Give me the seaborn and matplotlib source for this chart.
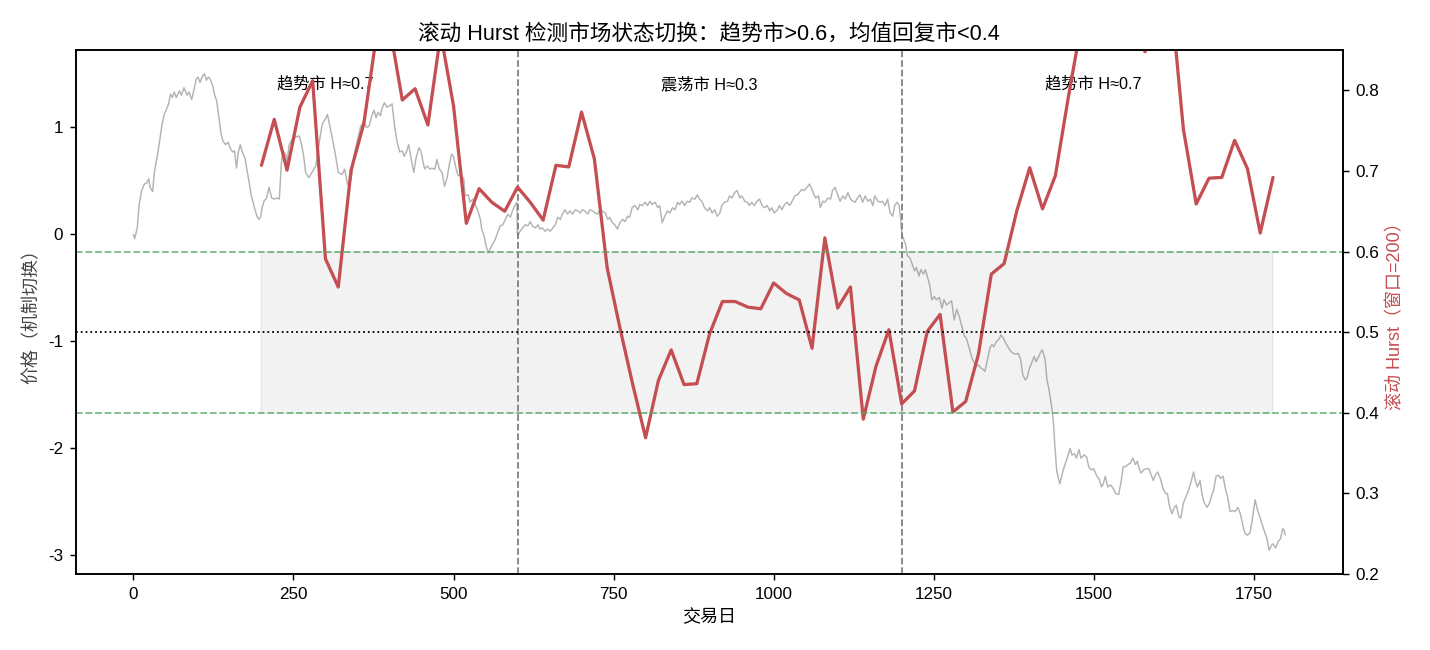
import numpy as np
import pandas as pd
import matplotlib
matplotlib.use("Agg")
import matplotlib.pyplot as plt
import seaborn as sns

# ---------------- data ----------------
price_days = [
    0, 2, 6, 9, 13, 17, 21, 24, 26, 30, 33, 37, 41, 44, 48, 51, 55, 58, 61, 64,
    67, 72, 75, 79, 84, 87, 91, 95, 98, 101, 104, 108, 111, 114, 117, 120, 124, 127, 130, 133,
    137, 140, 144, 148, 151, 155, 158, 161, 164, 167, 170, 174, 177, 181, 184, 189, 193, 196, 199, 201,
    204, 208, 212, 216, 220, 224, 228, 231, 234, 238, 240, 243, 248, 254, 259, 263, 266, 269, 274, 279,
    285, 290, 295, 300, 303, 307, 311, 316, 320, 326, 330, 334, 337, 341, 345, 350, 355, 360, 364, 368,
    373, 376, 379, 382, 386, 388, 392, 396, 400, 404, 408, 412, 416, 420, 423, 427, 430, 434, 438, 441,
    446, 449, 452, 455, 459, 463, 466, 471, 474, 478, 482, 486, 490, 494, 497, 500, 503, 507, 512, 516,
    518, 523, 526, 530, 534, 538, 542, 544, 548, 551, 554, 557, 561, 565, 569, 573, 577, 581, 585, 589,
    592, 596, 599, 600, 604, 608, 612, 616, 620, 623, 628, 632, 635, 639, 643, 647, 651, 655, 659, 663,
    667, 670, 674, 678, 682, 686, 690, 694, 698, 701, 705, 710, 713, 717, 721, 725, 729, 732, 737, 741,
    744, 748, 752, 756, 760, 764, 768, 772, 775, 779, 783, 788, 791, 795, 799, 803, 807, 810, 815, 819,
    822, 826, 830, 834, 838, 842, 846, 850, 853, 857, 861, 865, 869, 872, 877, 881, 884, 888, 892, 897,
    900, 904, 908, 912, 916, 919, 923, 928, 931, 935, 939, 943, 947, 950, 955, 959, 962, 966, 970, 974,
    978, 982, 986, 990, 994, 997, 1001, 1006, 1009, 1013, 1017, 1021, 1025, 1028, 1033, 1037, 1040, 1044, 1048, 1052,
    1056, 1060, 1063, 1066, 1070, 1073, 1077, 1080, 1085, 1089, 1092, 1096, 1100, 1104, 1108, 1112, 1116, 1120, 1124, 1127,
    1131, 1135, 1139, 1143, 1147, 1151, 1155, 1158, 1163, 1167, 1170, 1174, 1178, 1182, 1186, 1189, 1193, 1196, 1198, 1200,
    1202, 1206, 1209, 1213, 1216, 1220, 1223, 1227, 1230, 1234, 1237, 1240, 1244, 1247, 1251, 1254, 1259, 1263, 1266, 1270,
    1274, 1278, 1282, 1286, 1290, 1294, 1298, 1301, 1305, 1309, 1313, 1317, 1320, 1324, 1327, 1330, 1334, 1338, 1341, 1344,
    1348, 1352, 1355, 1359, 1362, 1367, 1370, 1374, 1378, 1382, 1386, 1389, 1393, 1396, 1399, 1403, 1407, 1410, 1414, 1418,
    1420, 1424, 1427, 1431, 1435, 1437, 1439, 1442, 1444, 1447, 1451, 1454, 1459, 1463, 1466, 1470, 1473, 1477, 1480, 1485,
    1489, 1492, 1496, 1500, 1505, 1508, 1512, 1515, 1518, 1522, 1526, 1530, 1534, 1539, 1543, 1546, 1550, 1553, 1557, 1561,
    1565, 1568, 1571, 1574, 1578, 1582, 1586, 1588, 1593, 1596, 1600, 1604, 1608, 1612, 1615, 1618, 1622, 1626, 1629, 1633,
    1636, 1640, 1644, 1648, 1652, 1656, 1659, 1662, 1666, 1669, 1672, 1677, 1681, 1684, 1687, 1691, 1695, 1698, 1702, 1705,
    1709, 1713, 1717, 1721, 1725, 1729, 1733, 1736, 1740, 1744, 1748, 1752, 1756, 1760, 1764, 1767, 1770, 1774, 1778, 1780,
    1784, 1788, 1792, 1795, 1797, 1799,
]
price_values = [
    0.00, -0.04, 0.06, 0.28, 0.41, 0.47, 0.48, 0.52, 0.44, 0.40, 0.59, 0.72, 0.87, 1.00, 1.12, 1.16, 1.22, 1.31, 1.28, 1.33,
    1.28, 1.34, 1.30, 1.37, 1.30, 1.33, 1.26, 1.36, 1.45, 1.47, 1.42, 1.48, 1.50, 1.44, 1.47, 1.45, 1.39, 1.30, 1.25, 1.12,
    0.94, 0.87, 0.84, 0.86, 0.81, 0.77, 0.78, 0.62, 0.77, 0.84, 0.77, 0.72, 0.62, 0.48, 0.37, 0.25, 0.17, 0.14, 0.17, 0.25,
    0.31, 0.34, 0.44, 0.34, 0.33, 0.34, 0.33, 0.66, 0.78, 0.75, 0.66, 0.83, 0.89, 0.91, 0.92, 0.83, 0.73, 0.58, 0.53, 0.58,
    0.64, 0.85, 1.03, 1.08, 1.12, 1.01, 0.89, 0.73, 0.58, 0.56, 0.61, 0.48, 0.45, 0.55, 0.75, 0.88, 1.01, 1.05, 1.00, 1.01,
    1.12, 1.16, 1.09, 1.14, 1.11, 1.17, 1.23, 1.19, 1.20, 1.22, 1.01, 0.86, 0.77, 0.78, 0.73, 0.78, 0.84, 0.70, 0.58, 0.70,
    0.81, 0.78, 0.69, 0.61, 0.64, 0.61, 0.62, 0.61, 0.70, 0.61, 0.58, 0.45, 0.53, 0.67, 0.75, 0.73, 0.64, 0.55, 0.55, 0.52,
    0.36, 0.37, 0.30, 0.33, 0.28, 0.22, 0.14, 0.05, -0.02, -0.11, -0.17, -0.14, -0.09, -0.05, 0.02, 0.08, 0.09, 0.14, 0.19, 0.16,
    0.22, 0.27, 0.30, -0.02, 0.03, 0.06, 0.09, 0.08, 0.12, 0.08, 0.06, 0.09, 0.05, 0.06, 0.03, 0.05, 0.03, 0.06, 0.09, 0.16,
    0.14, 0.19, 0.23, 0.19, 0.22, 0.19, 0.23, 0.22, 0.20, 0.23, 0.22, 0.19, 0.23, 0.22, 0.20, 0.19, 0.23, 0.22, 0.20, 0.14,
    0.16, 0.11, 0.09, 0.05, 0.11, 0.14, 0.12, 0.17, 0.16, 0.25, 0.27, 0.23, 0.28, 0.27, 0.30, 0.27, 0.31, 0.28, 0.30, 0.25,
    0.27, 0.11, 0.17, 0.22, 0.20, 0.25, 0.23, 0.30, 0.28, 0.31, 0.27, 0.31, 0.30, 0.34, 0.33, 0.37, 0.33, 0.31, 0.25, 0.22,
    0.25, 0.20, 0.23, 0.17, 0.20, 0.27, 0.30, 0.31, 0.36, 0.34, 0.39, 0.41, 0.34, 0.36, 0.31, 0.30, 0.27, 0.30, 0.27, 0.31,
    0.33, 0.27, 0.25, 0.27, 0.22, 0.25, 0.20, 0.23, 0.27, 0.23, 0.28, 0.30, 0.27, 0.30, 0.36, 0.37, 0.39, 0.42, 0.41, 0.44,
    0.47, 0.42, 0.37, 0.34, 0.36, 0.25, 0.31, 0.30, 0.34, 0.33, 0.41, 0.44, 0.37, 0.31, 0.36, 0.33, 0.39, 0.33, 0.31, 0.30,
    0.34, 0.37, 0.30, 0.36, 0.31, 0.33, 0.27, 0.36, 0.31, 0.30, 0.31, 0.27, 0.33, 0.20, 0.17, 0.27, 0.30, 0.27, 0.17, 0.02,
    -0.03, -0.09, -0.20, -0.22, -0.27, -0.34, -0.31, -0.39, -0.33, -0.37, -0.33, -0.39, -0.48, -0.61, -0.58, -0.61, -0.59, -0.69, -0.61, -0.66,
    -0.64, -0.62, -0.80, -0.70, -0.77, -0.86, -0.95, -0.97, -1.05, -1.14, -1.20, -1.23, -1.22, -1.25, -1.26, -1.28, -1.17, -1.06, -1.03, -1.05,
    -1.00, -0.98, -0.94, -0.97, -1.01, -1.06, -1.09, -1.11, -1.12, -1.11, -1.17, -1.31, -1.36, -1.34, -1.26, -1.20, -1.14, -1.19, -1.14, -1.09,
    -1.08, -1.17, -1.36, -1.48, -1.64, -1.76, -1.95, -2.20, -2.26, -2.33, -2.23, -2.17, -2.08, -2.00, -2.06, -2.05, -2.09, -2.01, -2.09, -2.06,
    -2.08, -2.17, -2.20, -2.19, -2.26, -2.28, -2.36, -2.33, -2.26, -2.36, -2.34, -2.37, -2.42, -2.43, -2.30, -2.17, -2.17, -2.15, -2.14, -2.09,
    -2.15, -2.12, -2.19, -2.23, -2.20, -2.19, -2.19, -2.22, -2.30, -2.25, -2.22, -2.28, -2.37, -2.42, -2.42, -2.53, -2.61, -2.55, -2.53, -2.64,
    -2.65, -2.51, -2.45, -2.39, -2.31, -2.22, -2.31, -2.36, -2.30, -2.42, -2.50, -2.55, -2.51, -2.44, -2.40, -2.26, -2.25, -2.28, -2.26, -2.36,
    -2.45, -2.59, -2.58, -2.59, -2.55, -2.61, -2.72, -2.79, -2.81, -2.79, -2.65, -2.48, -2.58, -2.65, -2.73, -2.78, -2.83, -2.95, -2.90, -2.89,
    -2.93, -2.87, -2.84, -2.75, -2.76, -2.81,
]

hurst_days = list(range(200, 1781, 20))
hurst_values = [
    0.707, 0.764, 0.701, 0.779, 0.812, 0.591, 0.556, 0.701, 0.759, 0.870,
    0.880, 0.788, 0.802, 0.757, 0.870, 0.781, 0.635, 0.678, 0.661, 0.650,
    0.680, 0.661, 0.639, 0.707, 0.705, 0.773, 0.715, 0.580, 0.505, 0.435,
    0.369, 0.440, 0.478, 0.435, 0.436, 0.498, 0.538, 0.538, 0.531, 0.529,
    0.561, 0.548, 0.540, 0.480, 0.617, 0.530, 0.556, 0.392, 0.458, 0.503,
    0.411, 0.427, 0.501, 0.522, 0.401, 0.414, 0.473, 0.572, 0.585, 0.651,
    0.704, 0.653, 0.694, 0.790, 0.880, 0.950, 0.960, 0.920, 0.880, 0.848,
    0.880, 0.920, 0.752, 0.659, 0.691, 0.692, 0.738, 0.703, 0.623, 0.692,
]

regime_breaks = [600, 1200]
regime_label_x = [300, 900, 1500]
regime_labels = ["趋势市 H≈0.7", "震荡市 H≈0.3", "趋势市 H≈0.7"]
upper_thr, mid_line, lower_thr = 0.6, 0.5, 0.4

price_df = pd.DataFrame({"day": price_days, "price": price_values})
hurst_df = pd.DataFrame({"day": hurst_days, "hurst": hurst_values})

# ---------------- style ----------------
sns.set_theme(style="ticks")
plt.rcParams["font.family"] = ["Liberation Sans", "Noto Sans CJK SC", "DejaVu Sans"]
plt.rcParams["axes.unicode_minus"] = False
plt.rcParams["axes.edgecolor"] = "black"
plt.rcParams["axes.linewidth"] = 0.9
plt.rcParams["xtick.color"] = "black"
plt.rcParams["ytick.color"] = "black"
plt.rcParams["text.color"] = "black"
plt.rcParams["axes.labelcolor"] = "black"

fig, ax1 = plt.subplots(figsize=(11, 5), dpi=130)
fig.subplots_adjust(left=0.053, right=0.939, bottom=0.117, top=0.923)

sns.lineplot(data=price_df, x="day", y="price", ax=ax1, color="#b3b3b3",
             linewidth=0.8, estimator=None, sort=False)
for b in regime_breaks:
    ax1.axvline(b, color="gray", linestyle="--", linewidth=1)
for lx, lab in zip(regime_label_x, regime_labels):
    ax1.text(lx, 0.935, lab, transform=ax1.get_xaxis_transform(),
             ha="center", va="center", fontsize=9)
ax1.set_xlabel("交易日", fontsize=10)
ax1.set_ylabel("价格（机制切换）", fontsize=10, color="#444444")
ax1.tick_params(axis="both", labelsize=9.5, length=3.5, width=0.8)

ax2 = ax1.twinx()
ax2.fill_between(hurst_df["day"], lower_thr, upper_thr, color="gray", alpha=0.1)
sns.lineplot(data=hurst_df, x="day", y="hurst", ax=ax2, color="#C44E52",
             linewidth=1.8, estimator=None, sort=False)
ax2.axhline(upper_thr, color="#55A868", linestyle="--", linewidth=1, alpha=0.8)
ax2.axhline(lower_thr, color="#55A868", linestyle="--", linewidth=1, alpha=0.8)
ax2.axhline(mid_line, color="black", linestyle=":", linewidth=1)
ax2.set_ylim(0.2, 0.85)
ax2.set_ylabel("滚动 Hurst（窗口=200）", fontsize=10, color="#C44E52")
ax2.tick_params(axis="y", labelsize=9.5, length=3.5, width=0.8)

ax1.set_title("滚动 Hurst 检测市场状态切换：趋势市>0.6，均值回复市<0.4", fontsize=12)

fig.savefig("out.png", dpi=130)
